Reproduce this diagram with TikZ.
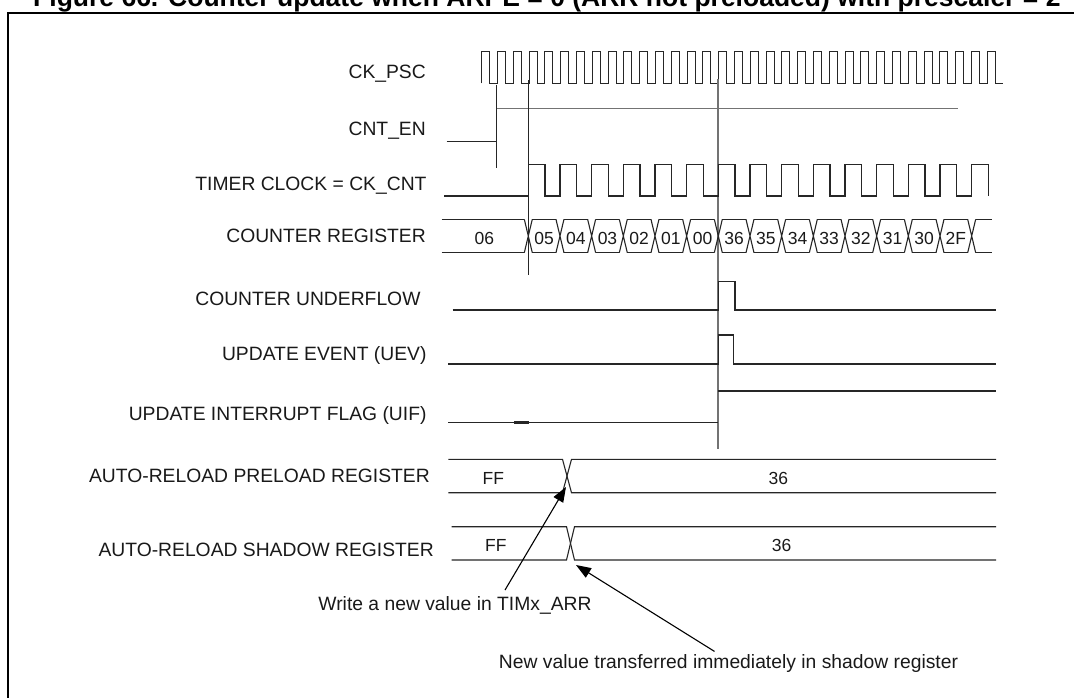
\documentclass[tikz,border=0pt]{standalone}
\usepackage{fontspec}
\setmainfont{Liberation Sans}
\usetikzlibrary{arrows.meta}
\begin{document}
\begin{tikzpicture}[x=1pt,y=-1pt,
  wave/.style={line width=1.1pt, draw=black!85},
  grayline/.style={line width=1.4pt, draw=black!55},
  lbl/.style={anchor=base east, font=\fontsize{19.3}{23}\selectfont, inner sep=0pt, text=black!90},
  val/.style={anchor=base, font=\fontsize{17.5}{21}\selectfont, inner sep=0pt, text=black!90},
  note/.style={anchor=base, font=\fontsize{19.3}{23}\selectfont, inner sep=0pt, text=black!90},
  arr/.style={line width=1.1pt, draw=black, -{Triangle[length=15pt,width=11pt]}}]
\useasboundingbox (0,0) rectangle (1074,697);
% title (cropped at the top) and frame
\node[anchor=base west, font=\fontsize{26.5}{30}\selectfont\bfseries, inner sep=0pt] (title) at (33,6) {Figure 66. Counter update when ARPE = 0 (ARR not preloaded) with prescaler = 2};
\draw[line width=2.6pt] (8,720) -- (8,13) -- (1090,13);
% labels
\node[lbl] (lckpsc) at (426,78.6) {CK\_PSC};
\node[lbl] (lcnten) at (426,135.2) {CNT\_EN};
\node[lbl] (lckcnt) at (426.7,190.2) {TIMER CLOCK = CK\_CNT};
\node[lbl] (lcnt) at (426,242.9) {COUNTER REGISTER};
\node[lbl] (lunder) at (420.7,305.2) {COUNTER UNDERFLOW};
\node[lbl] (luev) at (426.7,360.2) {UPDATE EVENT (UEV)};
\node[lbl] (luif) at (426.7,420.9) {UPDATE INTERRUPT FLAG (UIF)};
\node[lbl] (lpre) at (430,482.9) {AUTO-RELOAD PRELOAD REGISTER};
\node[lbl] (lsha) at (434,556.9) {AUTO-RELOAD SHADOW REGISTER};
% CK_PSC
\draw[wave] (481.7,83.3) \foreach \k in {0,...,32}{ -- ++(0,-31.6) -- ++(8,0) -- ++(0,31.6) -- ++(7.8,0)};
% CNT_EN
\draw[wave] (446.7,141.7) -- (496.7,141.7);
\draw[wave] (496.7,85) -- (496.7,168.3);
\draw[grayline] (496.7,108.3) -- (958.3,108.3);
% markers
\draw[wave] (528.3,80) -- (528.3,275);
\draw[grayline,line width=1.8pt] (718.3,79) -- (718.3,449);
% CK_CNT
\draw[wave] (444,196) -- (528.3,196) \foreach \k in {0,...,13}{ -- ++(0,-31.7) -- ++(16.7,0) -- ++(0,31.7) -- ++(14.97,0)} -- ++(0,-31.7) -- ++(16.7,0) -- ++(0,31.7);
% counter register
\draw[wave] (441.7,219.3) -- (524.3,219.3) (441.7,252.7) -- (524.3,252.7);
\foreach \i in {0,...,14}{
  \pgfmathsetmacro\t{528.3+31.67*\i}
  \draw[wave] (\t-4,219.3) -- (\t+4,252.7) (\t-4,252.7) -- (\t+4,219.3);
}
\foreach \i in {0,...,13}{
  \pgfmathsetmacro\t{528.3+31.67*\i}
  \draw[wave] (\t+4,219.3) -- (\t+27.67,219.3) (\t+4,252.7) -- (\t+27.67,252.7);
}
\draw[wave] (975.7,219.3) -- (991.7,219.3) (975.7,252.7) -- (991.7,252.7);
\node[val] (c06) at (484.3,244) {06};
\foreach \v [count=\i from 0] in {05,04,03,02,01,00,36,35,34,33,32,31,30,2F}{
  \node[val] (c\i) at ({544.15+31.67*\i},244) {\v};
}
% counter underflow
\draw[wave] (452.7,310) -- (718.3,310) -- (718.3,281.7) -- (735,281.7) -- (735,310) -- (996,310);
% UEV
\draw[wave] (448.3,364) -- (718.3,364) -- (718.3,335) -- (733.3,335) -- (733.3,364) -- (996,364);
% UIF
\draw[wave] (448.3,422.3) -- (718.3,422.3);
\draw[wave] (718.3,391) -- (996,391);
\draw[line width=2.4pt, draw=black!85] (514,422.6) -- (529.3,422.6);
% auto-reload preload register
\draw[wave] (448.3,459.3) -- (562.5,459.3) -- (571.5,492.7) -- (996,492.7);
\draw[wave] (448.3,492.7) -- (562.5,492.7) -- (571.5,459.3) -- (996,459.3);
\node[val] (pff) at (493.3,484.6) {FF};
\node[val] (p36) at (778.3,484.6) {36};
% auto-reload shadow register
\draw[wave] (451.7,526.7) -- (566.5,526.7) -- (574.5,560) -- (996,560);
\draw[wave] (451.7,560) -- (566.5,560) -- (574.5,526.7) -- (996,526.7);
\node[val] (sff) at (495.8,551.3) {FF};
\node[val] (s36) at (781.7,551.3) {36};
% annotations
\node[note] (w) at (455,610.2) {Write a new value in TIMx\_ARR};
\node[note] (n) at (728.5,668.6) {New value transferred immediately in shadow register};
\coordinate (tip1) at (566,487);
\coordinate (tip2) at (576,565);
\draw[arr] ([shift={(50,-6)}]w.north) -- (tip1);
\draw[arr] ([shift={(-14,-3)}]n.north) -- (tip2);
\end{tikzpicture}
\end{document}
